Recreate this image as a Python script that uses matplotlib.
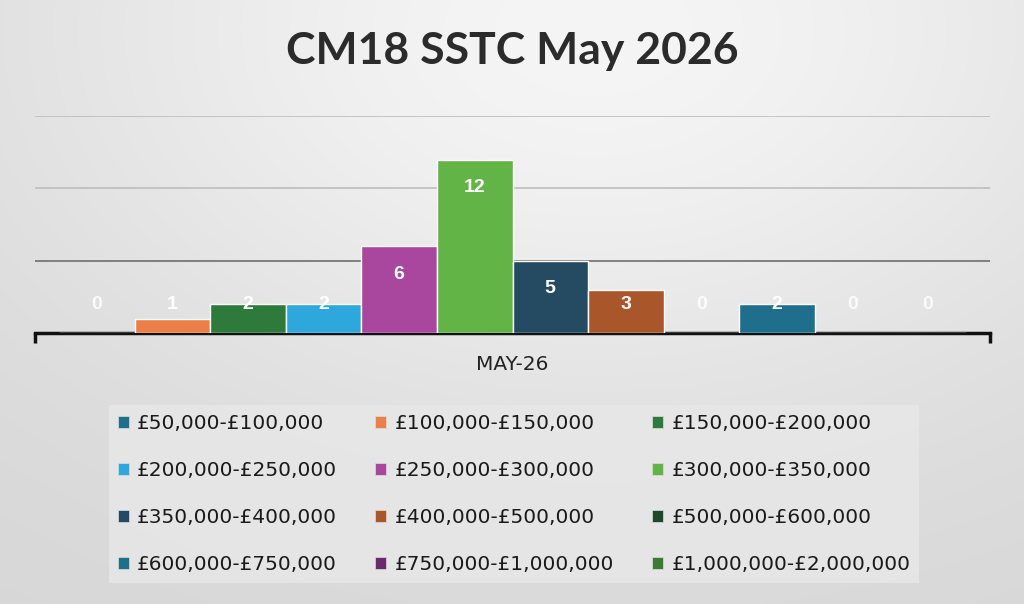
import matplotlib.pyplot as plt
import numpy as np
from matplotlib.patches import Patch

# Data
category = "MAY-26"
bands = ["£50,000-£100,000", "£100,000-£150,000", "£150,000-£200,000",
         "£200,000-£250,000", "£250,000-£300,000", "£300,000-£350,000",
         "£350,000-£400,000", "£400,000-£500,000", "£500,000-£600,000",
         "£600,000-£750,000", "£750,000-£1,000,000", "£1,000,000-£2,000,000"]
counts = [0, 1, 2, 2, 6, 12, 5, 3, 0, 2, 0, 0]
colors = ["#1f6e8c", "#ea7f48", "#2e7a3b", "#2ea7dd", "#a9479f", "#63b446",
          "#244b62", "#a9562b", "#1d4a2b", "#1f6e8c", "#6b2a6c", "#3d7b35"]

fig = plt.figure(figsize=(10.24, 6.04), dpi=100)

# light grey gradient background, brightest near the top middle
bg = fig.add_axes([0, 0, 1, 1], zorder=-10)
yy, xx = np.mgrid[0:1:604j, 0:1:1024j]
shade = 0.84 + 0.12 * np.exp(-((xx - 0.58) ** 2 / 0.35 + (yy - 0.05) ** 2 / 0.45))
rgb = np.dstack([shade, shade, shade])
bg.imshow(rgb, aspect="auto", extent=[0, 1, 1, 0], interpolation="bilinear")
bg.axis("off")

ax = fig.add_axes([0.034, 0.4487, 0.933, 0.359])
ax.patch.set_alpha(0)

n = len(counts)
w = 0.949 / n
xs = (np.arange(n) - (n - 1) / 2) * w
ax.bar(xs, counts, width=w, color=colors, edgecolor="white", linewidth=1, zorder=3)

# data labels (inside end)
for x, v in zip(xs, counts):
    ax.text(x, max(v - 1.95, 1.95), str(v), ha="center", va="center",
            color="white", fontsize=14, fontweight="bold", family="Liberation Sans",
            alpha=0.85 if v == 0 else 1, zorder=4)

ax.set_xlim(-0.5, 0.5)
ax.set_ylim(0, 15)
ax.set_yticks([5, 10, 15])
ax.yaxis.grid(True, color="#bdbdbd", linewidth=1.2, zorder=0)
ax.yaxis.get_gridlines()[0].set_color("#6e6e6e")
ax.tick_params(axis="y", left=False, labelleft=False)
ax.set_xticks([-0.5, 0.5])
ax.set_xticklabels([])
ax.tick_params(axis="x", length=7, width=2.5, color="#111111", direction="out")
for s in ["top", "right", "left"]:
    ax.spines[s].set_visible(False)
ax.spines["bottom"].set_linewidth(2.5)
ax.spines["bottom"].set_color("#111111")
ax.text(0, -0.1, category, transform=ax.get_xaxis_transform(), ha="center", va="top",
        fontsize=14.5, color="#222222", family="DejaVu Sans")

fig.text(0.5, 0.915, "CM18 SSTC May 2026", ha="center", va="center",
         fontsize=32, fontweight="bold", color="#2b2b2b", family="Lato")

# legend, filled row by row
handles = [Patch(facecolor=c, edgecolor="#dddddd", linewidth=0.5) for c in colors]
order = [0, 3, 6, 9, 1, 4, 7, 10, 2, 5, 8, 11]
leg = fig.legend([handles[i] for i in order], [bands[i] for i in order],
                 loc="center", bbox_to_anchor=(0.502, 0.182), ncol=3,
                 frameon=True, fancybox=False,
                 handlelength=0.55, handleheight=0.55, handletextpad=0.4,
                 labelspacing=1.4, columnspacing=1.9, borderpad=0.45,
                 prop={"family": "DejaVu Sans", "size": 14.5})
leg.get_frame().set_facecolor("#e8e8e8")
leg.get_frame().set_edgecolor("none")
for t in leg.get_texts():
    t.set_color("#1a1a1a")

fig.savefig("out.png", dpi=100)
